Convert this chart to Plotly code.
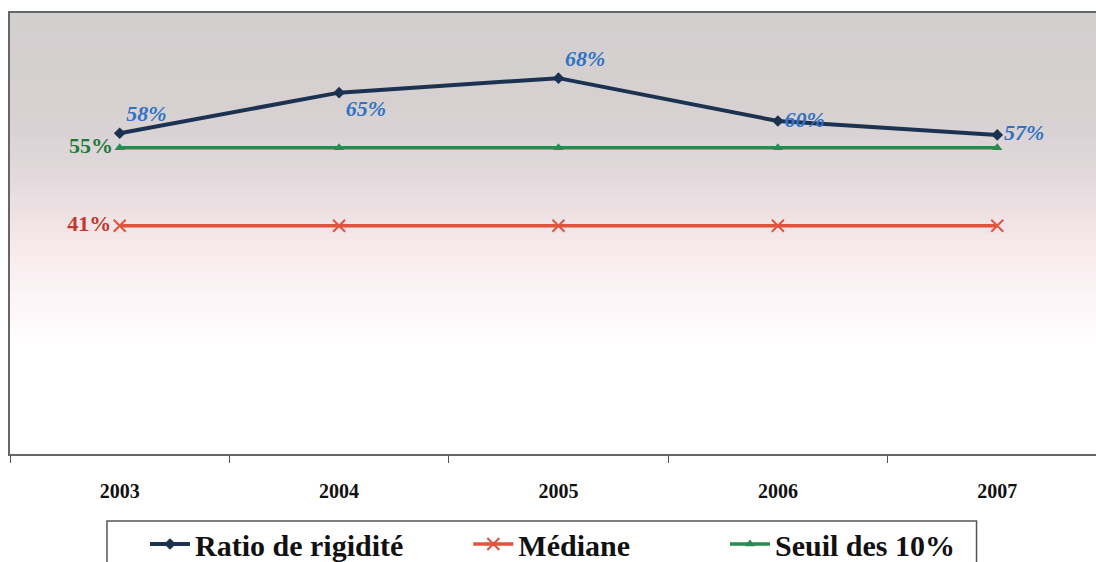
import plotly.graph_objects as go

# data
years = ['2003', '2004', '2005', '2006', '2007']
ratio_rigidite = [57.6, 64.9, 67.5, 59.8, 57.3]
mediane = [41, 41, 41, 41, 41]
seuil_10 = [55, 55, 55, 55, 55]

serif = 'Liberation Serif, Times New Roman, serif'
pad = '\u00a0'

fig = go.Figure()

fig.add_trace(go.Scatter(x=years, y=ratio_rigidite, name='Ratio de rigidité' + pad * 8,
                         mode='lines+markers+text',
                         line=dict(color='#1b3350', width=4),
                         marker=dict(symbol='diamond', size=9, color='#1b3350'),
                         text=[f'{v:.0f}%' for v in ratio_rigidite],
                         textposition=['top right', 'bottom right', 'top right', 'middle right', 'middle right'],
                         textfont=dict(family=serif, size=22, color='#2f72c4', weight='bold', style='italic'),
                         cliponaxis=False))

fig.add_trace(go.Scatter(x=years, y=mediane, name='Médiane' + pad * 12,
                         mode='lines+markers+text',
                         line=dict(color='#e0533d', width=3.5),
                         marker=dict(symbol='x-thin', size=12, color='#e0533d', line=dict(width=2, color='#e0533d')),
                         text=[f'{mediane[0]}%', '', '', '', ''],
                         textposition='middle left',
                         textfont=dict(family=serif, size=22, color='#c0392b', weight='bold'),
                         cliponaxis=False))

fig.add_trace(go.Scatter(x=years, y=seuil_10, name='Seuil des 10%',
                         mode='lines+markers+text',
                         line=dict(color='#2a8a50', width=3.5),
                         marker=dict(symbol='triangle-up', size=9, color='#2a8a50'),
                         text=[f'{seuil_10[0]}%', '', '', '', ''],
                         textposition='middle left',
                         textfont=dict(family=serif, size=22, color='#1f7a3a', weight='bold'),
                         cliponaxis=False))

# scanned-page tint behind the plot: grey at the top fading to pink then white
stops = [(0.0, (212, 207, 207)), (0.2, (214, 208, 209)), (0.32, (222, 214, 216)),
         (0.43, (236, 224, 227)), (0.55, (248, 236, 239)), (0.66, (253, 246, 248)), (0.75, (255, 255, 255))]
shapes = []
n = 60
for i in range(n):
    t = i / n
    for (a, ca), (b, cb) in zip(stops, stops[1:]):
        if a <= t <= b:
            f = (t - a) / (b - a)
            c = tuple(round(ca[k] + (cb[k] - ca[k]) * f) for k in range(3))
            break
    else:
        c = (255, 255, 255)
    shapes.append(dict(type='rect', xref='paper', yref='paper', x0=0, x1=1,
                       y0=max(0, 1 - (i + 1.6) / n), y1=1 - i / n, layer='below',
                       line=dict(width=0), fillcolor=f'rgb{c}'))

# legend frame, running off the bottom of the page like the original
shapes.append(dict(type='rect', xref='paper', yref='paper', x0=0.0893, x1=0.890,
                   y0=-0.30, y1=-0.152, line=dict(color='#555555', width=1.5),
                   fillcolor='white', layer='below'))

fig.update_layout(width=1096, height=562, showlegend=True,
                  margin=dict(l=10, r=0, t=13, b=108),
                  plot_bgcolor='white', paper_bgcolor='white',
                  shapes=shapes,
                  legend=dict(orientation='h', xref='container', yref='container',
                              x=145 / 1096, y=1 - 518 / 562, xanchor='left', yanchor='top',
                              font=dict(family=serif, size=30, color='#111111', weight='bold'),
                              bgcolor='rgba(0,0,0,0)', borderwidth=0,
                              itemwidth=40))

fig.update_xaxes(type='category', range=[-0.5, 4.45], showline=True, linecolor='#666666', linewidth=1.5,
                 mirror=True, showgrid=False, ticks='outside', tickson='boundaries', ticklen=7,
                 tickcolor='#555555', tickwidth=1.2, ticklabelstandoff=18,
                 tickfont=dict(family=serif, size=20, color='#111111', weight='bold'))

fig.update_yaxes(range=[0, 79.2], showline=True, linecolor='#666666', linewidth=1.5,
                 showgrid=False, zeroline=False, showticklabels=False, ticks='')

fig.write_html('out.html', config={'displayModeBar': False},
               post_script="document.body.style.margin='0';document.body.style.overflow='hidden';")
